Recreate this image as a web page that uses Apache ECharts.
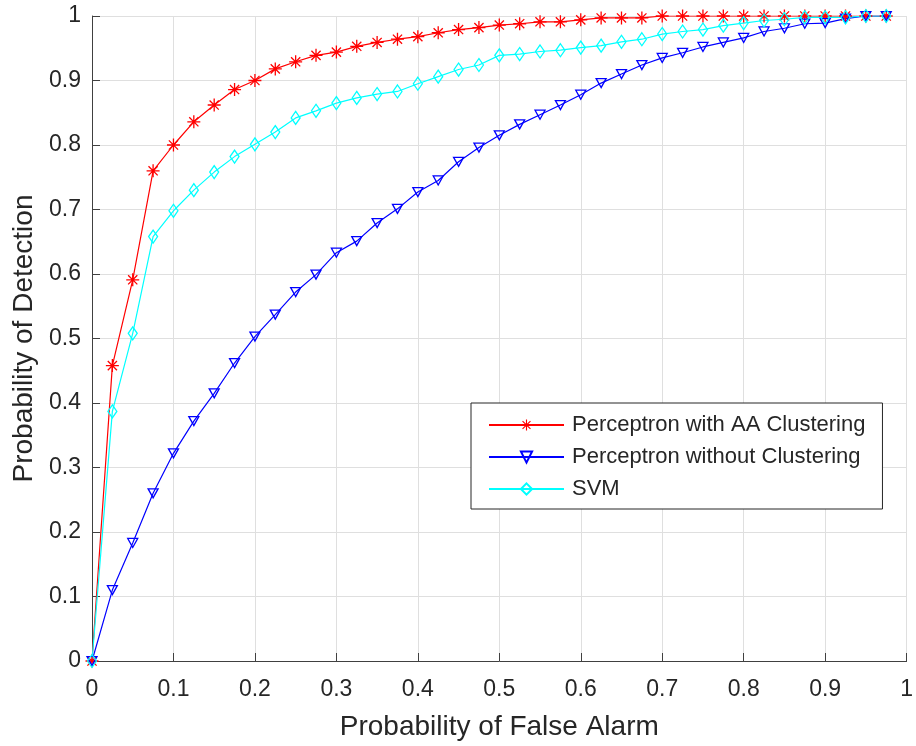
<!DOCTYPE html>
<html>
<head>
<meta charset="utf-8">
<script src="https://cdn.jsdelivr.net/npm/echarts@6/dist/echarts.min.js"></script>
<style>
html,body{margin:0;padding:0;background:#fff;}
#chart{width:916px;height:746px;}
</style>
</head>
<body>
<div id="chart"></div>
<script>
// False alarm probabilities (x positions of the markers)
const falseAlarm = [0, 0.025, 0.05, 0.075, 0.1, 0.125, 0.15, 0.175, 0.2, 0.225,
  0.25, 0.275, 0.3, 0.325, 0.35, 0.375, 0.4, 0.425, 0.45, 0.475,
  0.5, 0.525, 0.55, 0.575, 0.6, 0.625, 0.65, 0.675, 0.7, 0.725,
  0.75, 0.775, 0.8, 0.825, 0.85, 0.875, 0.9, 0.925, 0.95, 0.975];

const perceptronAA = [0, 0.458, 0.591, 0.760, 0.800, 0.836, 0.862, 0.886, 0.900, 0.918,
  0.929, 0.939, 0.944, 0.953, 0.959, 0.964, 0.968, 0.974, 0.979, 0.982,
  0.986, 0.988, 0.991, 0.991, 0.994, 0.997, 0.997, 0.997, 1.0, 1.0,
  1.0, 1.0, 1.0, 1.0, 1.0, 1.0, 1.0, 1.0, 1.0, 1.0];

const perceptronNoClust = [0, 0.110, 0.183, 0.260, 0.322, 0.372, 0.415, 0.462, 0.503, 0.537,
  0.572, 0.599, 0.633, 0.651, 0.679, 0.701, 0.727, 0.745, 0.774, 0.796,
  0.815, 0.832, 0.847, 0.862, 0.878, 0.896, 0.910, 0.924, 0.935, 0.943,
  0.952, 0.959, 0.966, 0.976, 0.981, 0.988, 0.989, 0.996, 1.0, 1.0];

const svm = [0, 0.387, 0.508, 0.658, 0.698, 0.730, 0.758, 0.782, 0.801, 0.820,
  0.842, 0.853, 0.865, 0.873, 0.879, 0.883, 0.895, 0.906, 0.917, 0.924,
  0.939, 0.941, 0.945, 0.947, 0.951, 0.954, 0.960, 0.964, 0.972, 0.976,
  0.979, 0.985, 0.989, 0.993, 0.995, 0.998, 0.998, 0.998, 1.0, 1.0];

const seriesNames = ['Perceptron with AA Clustering', 'Perceptron without Clustering', 'SVM'];
const xTitle = 'Probability of False Alarm';
const yTitle = 'Probability of Detection';

function pairs(ys) { return falseAlarm.map((x, i) => [x, ys[i]]); }

const asterisk = 'path://M9,0H11V20H9Z M0,9H20V11H0Z M3.64,2.22L17.78,16.36L16.36,17.78L2.22,3.64Z M16.36,2.22L17.78,3.64L3.64,17.78L2.22,16.36Z';

const FONT = '"Liberation Sans", Arial, Helvetica, sans-serif';
const TXT = '#262626';
const AXC = '#404040';

const chart = echarts.init(document.getElementById('chart'), null, {renderer: 'canvas'});
chart.setOption({
  animation: false,
  backgroundColor: '#ffffff',
  textStyle: {fontFamily: FONT},
  grid: {left: 92, right: 3, top: 16, bottom: 82},
  legend: {
    orient: 'vertical',
    left: 471, top: 403,
    backgroundColor: '#ffffff',
    borderColor: TXT, borderWidth: 1,
    padding: [11, 17, 9, 17],
    itemWidth: 75, itemHeight: 14, itemGap: 10,
    textStyle: {fontSize: 22, color: TXT, fontFamily: FONT, padding: [0, 0, 0, 3]},
    data: seriesNames
  },
  xAxis: {
    type: 'value', min: 0, max: 1, interval: 0.1,
    name: xTitle, nameLocation: 'middle', nameGap: 52,
    nameTextStyle: {fontSize: 28, color: TXT, fontFamily: FONT},
    axisLine: {show: true, lineStyle: {color: AXC, width: 1}},
    axisTick: {show: true, inside: true, length: 8, lineStyle: {color: AXC}},
    axisLabel: {fontSize: 23, color: TXT, margin: 17, fontFamily: FONT},
    splitLine: {show: true, lineStyle: {color: '#dfdfdf', width: 1}}
  },
  yAxis: {
    type: 'value', min: 0, max: 1, interval: 0.1,
    name: yTitle, nameLocation: 'middle', nameGap: 54, nameRotate: 90,
    nameTextStyle: {fontSize: 28, color: TXT, fontFamily: FONT},
    axisLine: {show: true, lineStyle: {color: AXC, width: 1}},
    axisTick: {show: true, inside: true, length: 8, lineStyle: {color: AXC}},
    axisLabel: {fontSize: 23, color: TXT, margin: 11, fontFamily: FONT},
    splitLine: {show: true, lineStyle: {color: '#dfdfdf', width: 1}}
  },
  series: [
    {
      name: seriesNames[0], type: 'line', data: pairs(perceptronAA),
      symbol: asterisk, symbolSize: 13, showSymbol: true,
      lineStyle: {color: '#ff0000', width: 1.2},
      itemStyle: {color: '#ff0000'}
    },
    {
      name: seriesNames[1], type: 'line', data: pairs(perceptronNoClust),
      symbol: 'triangle', symbolRotate: 180, symbolSize: [10, 9], showSymbol: true,
      lineStyle: {color: '#0000ff', width: 1.2},
      itemStyle: {color: 'rgba(255,255,255,0)', borderColor: '#0000ff', borderWidth: 1.3}
    },
    {
      name: seriesNames[2], type: 'line', data: pairs(svm),
      symbol: 'diamond', symbolSize: [9, 13], showSymbol: true,
      lineStyle: {color: '#00ffff', width: 1.2},
      itemStyle: {color: 'rgba(255,255,255,0)', borderColor: '#00ffff', borderWidth: 1.3}
    }
  ]
});
</script>
</body>
</html>
